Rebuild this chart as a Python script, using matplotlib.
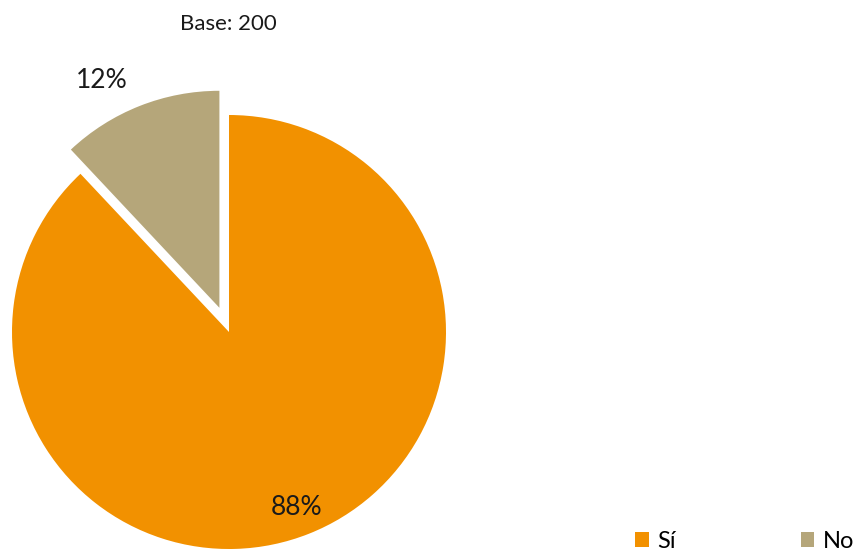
import matplotlib
matplotlib.use("Agg")
import matplotlib.pyplot as plt

plt.rcParams['font.family'] = ['Lato', 'DejaVu Sans']

categories = ['Sí', 'No']
values = [88, 12]
colors = ['#F29100', '#B5A67A']
base_n = 200

W, H, R = 857, 551, 217.0   # figure size and pie radius in pixels
cx, cy = 229, 332            # pie centre (pixels from top-left)

fig = plt.figure(figsize=(W / 100, H / 100), dpi=100)
ax = fig.add_axes([0, 0, 1, 1])

wedges, texts, autotexts = ax.pie(
    values, colors=colors, startangle=133.2, explode=[0, 0.12],
    autopct=lambda p: f"{p:.0f}%", pctdistance=0.87, radius=1,
    wedgeprops=dict(linewidth=0), textprops=dict(fontsize=19, color='#1a1a1a'))

# pie() resets the limits, so fix them afterwards
ax.set_xlim(-cx / R, (W - cx) / R)
ax.set_ylim(-(H - cy) / R, cy / R)
ax.set_aspect('equal')
ax.axis('off')

# push the small-slice label out above its wedge
autotexts[1].set_position((-0.588, 1.161))
autotexts[0].set_position((0.313, -0.808))

ax.text((228 - cx) / R, (cy - 24) / R, f"Base: {base_n}", ha='center', va='center',
        fontsize=16, color='#1a1a1a')

leg = fig.legend(wedges, categories, loc='center left', bbox_to_anchor=(635 / W, 1 - 541 / H),
                 ncol=2, frameon=False, fontsize=17, handlelength=0.58, handleheight=0.58,
                 handletextpad=0.35, columnspacing=5.3, borderaxespad=0, borderpad=0)

fig.savefig('out.png', dpi=100)
